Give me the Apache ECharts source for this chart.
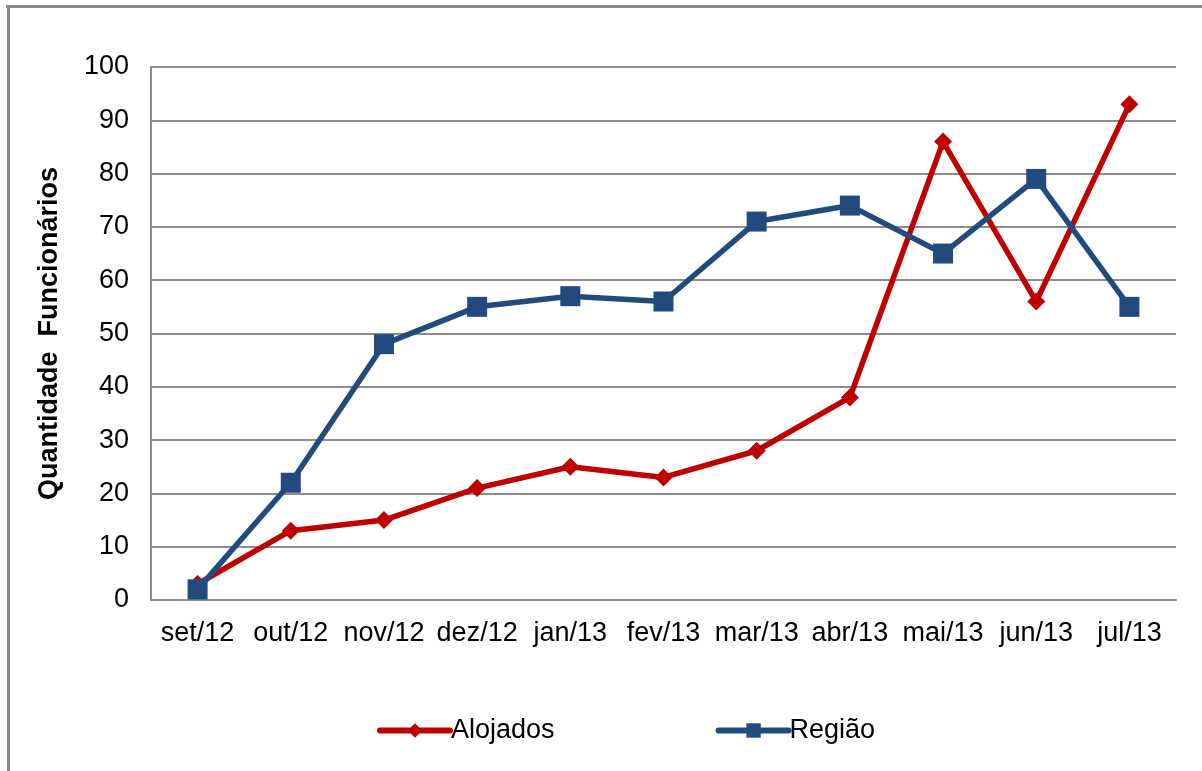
<!DOCTYPE html>
<html>
<head>
<meta charset="utf-8">
<script src="https://cdn.jsdelivr.net/npm/echarts@6/dist/echarts.min.js"></script>
<style>
html,body{margin:0;padding:0;background:#fff;}
#c{width:1202px;height:771px;}
</style>
</head>
<body>
<div id="c"></div>
<script>
var categories = ['set/12','out/12','nov/12','dez/12','jan/13','fev/13','mar/13','abr/13','mai/13','jun/13','jul/13'];
var alojados = [3,13,15,21,25,23,28,38,86,56,93];
var regiao = [2,22,48,55,57,56,71,74,65,79,55];
var yTicks = [0,10,20,30,40,50,60,70,80,90,100];

var chart = echarts.init(document.getElementById('c'));
var font = 'Liberation Sans, Arial, sans-serif';
chart.setOption({
  animation:false,
  backgroundColor:'#fff',
  graphic:[
    {type:'line',shape:{x1:6,y1:6.5,x2:1202,y2:6.5},style:{stroke:'#878787',lineWidth:3}},
    {type:'line',shape:{x1:8.5,y1:5,x2:8.5,y2:771},style:{stroke:'#878787',lineWidth:3}}
  ],
  grid:{left:151,top:67,width:1025,height:533,containLabel:false},
  legend:{
    top:712,left:372,itemGap:161,itemWidth:70,itemHeight:18,
    lineStyle:{width:6,cap:'round'},
    textStyle:{fontFamily:font,fontSize:27,color:'#000',padding:[0,0,0,-4]},
    data:['Alojados','Região']
  },
  xAxis:{
    type:'category',data:categories,boundaryGap:true,
    axisLine:{lineStyle:{color:'#8c8c8c',width:2}},
    axisTick:{show:false},
    axisLabel:{fontFamily:font,fontSize:27,color:'#000',margin:20,interval:0}
  },
  yAxis:{
    type:'value',min:yTicks[0],max:yTicks[yTicks.length-1],interval:10,
    name:'Quantidade  Funcionários',nameLocation:'middle',nameGap:88,nameRotate:90,
    nameTextStyle:{fontFamily:font,fontSize:27,fontWeight:'bold',color:'#000'},
    axisLine:{show:true,lineStyle:{color:'#8c8c8c',width:2}},
    axisTick:{show:false},
    splitLine:{lineStyle:{color:'#8c8c8c',width:2}},
    axisLabel:{fontFamily:font,fontSize:27,color:'#000',margin:22}
  },
  series:[
    {name:'Alojados',type:'line',data:alojados,symbol:'diamond',symbolSize:18,
     itemStyle:{color:'#C00000'},lineStyle:{color:'#C00000',width:5.5}},
    {name:'Região',type:'line',data:regiao,symbol:'rect',symbolSize:20,
     itemStyle:{color:'#214A7E'},lineStyle:{color:'#214A7E',width:5.5}}
  ]
});
</script>
</body>
</html>
